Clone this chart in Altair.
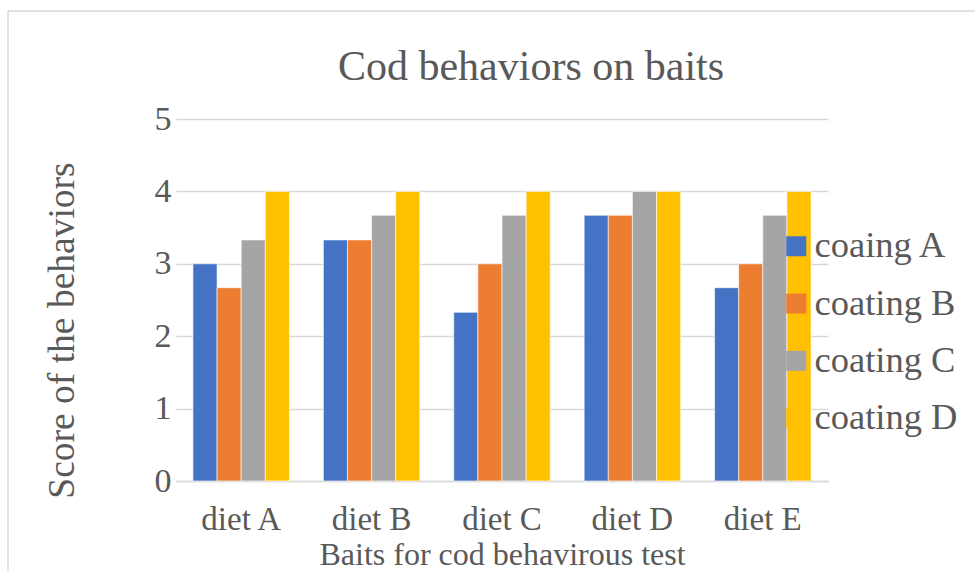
import altair as alt
import pandas as pd

diets = ["diet A", "diet B", "diet C", "diet D", "diet E"]
series = ["coaing A", "coating B", "coating C", "coating D"]
coating_a = [3.0, 3.33, 2.33, 3.67, 2.67]
coating_b = [2.67, 3.33, 3.0, 3.67, 3.0]
coating_c = [3.33, 3.67, 3.67, 4.0, 3.67]
coating_d = [4.0, 4.0, 4.0, 4.0, 4.0]
y_ticks = [0, 1, 2, 3, 4, 5]

colors = ["#4472C4", "#ED7D31", "#A5A5A5", "#FFC000"]
FONT = "Liberation Serif"
TXT = "#595959"

rows = []
for name, vals in zip(series, [coating_a, coating_b, coating_c, coating_d]):
    for d, v in zip(diets, vals):
        rows.append({"diet": d, "coating": name, "score": v})
df = pd.DataFrame(rows)

bars = alt.Chart(df).mark_bar(stroke="white", strokeWidth=0.6).encode(
    x=alt.X("diet:N", sort=diets,
            scale=alt.Scale(paddingInner=0.26, paddingOuter=0.13),
            axis=alt.Axis(title="Baits for cod behavirous test", labelAngle=0,
                          ticks=False, tickSize=0, labelPadding=22,
                          domainColor="#d9d9d9", domainWidth=1.5,
                          labelFont=FONT, labelFontSize=33, labelColor=TXT,
                          titleFont=FONT, titleFontSize=32, titleColor=TXT,
                          titleFontWeight="normal",
                          titleBaseline="alphabetic", titleY=83)),
    xOffset=alt.XOffset("coating:N", sort=series),
    y=alt.Y("score:Q",
            scale=alt.Scale(domain=[0, 5]),
            axis=alt.Axis(title="Score of the behaviors", values=y_ticks,
                          domain=False, ticks=False, tickSize=0, labelPadding=5,
                          gridColor="#d9d9d9", gridWidth=1.5,
                          labelFont=FONT, labelFontSize=34, labelColor=TXT,
                          titleFont=FONT, titleFontSize=37.5, titleColor=TXT,
                          titleFontWeight="normal",
                          titleBaseline="middle", titleX=-114, titleY=211)),
    color=alt.Color("coating:N", sort=series,
                    scale=alt.Scale(domain=series, range=colors),
                    legend=alt.Legend(title=None, orient="none",
                                      legendX=602, legendY=109, padding=0,
                                      symbolType="square", symbolSize=400,
                                      symbolStrokeWidth=0, symbolOpacity=1,
                                      labelFont=FONT, labelFontSize=36.5,
                                      labelColor=TXT, labelOffset=0,
                                      rowPadding=20.3)),
)

frame = alt.Chart(pd.DataFrame({"k": [0]})).mark_rect(
    fill=None, stroke="#d9d9d9", strokeWidth=1.5
).encode(
    x=alt.value(-168), y=alt.value(-108), x2=alt.value(1000), y2=alt.value(700)
)

chart = alt.layer(frame, bars).properties(
    width=652, height=362,
    background="white",
    title=alt.TitleParams("Cod behaviors on baits", font=FONT, fontSize=42,
                          fontWeight="normal", color=TXT, frame="group",
                          anchor="middle", dx=29, offset=-79),
    padding={"left": 176, "top": 119, "right": 147, "bottom": 90},
    autosize=alt.AutoSizeParams(type="none"),
).configure_view(stroke=None)

chart.save("out.html", embed_options={"renderer": "svg", "actions": False})
